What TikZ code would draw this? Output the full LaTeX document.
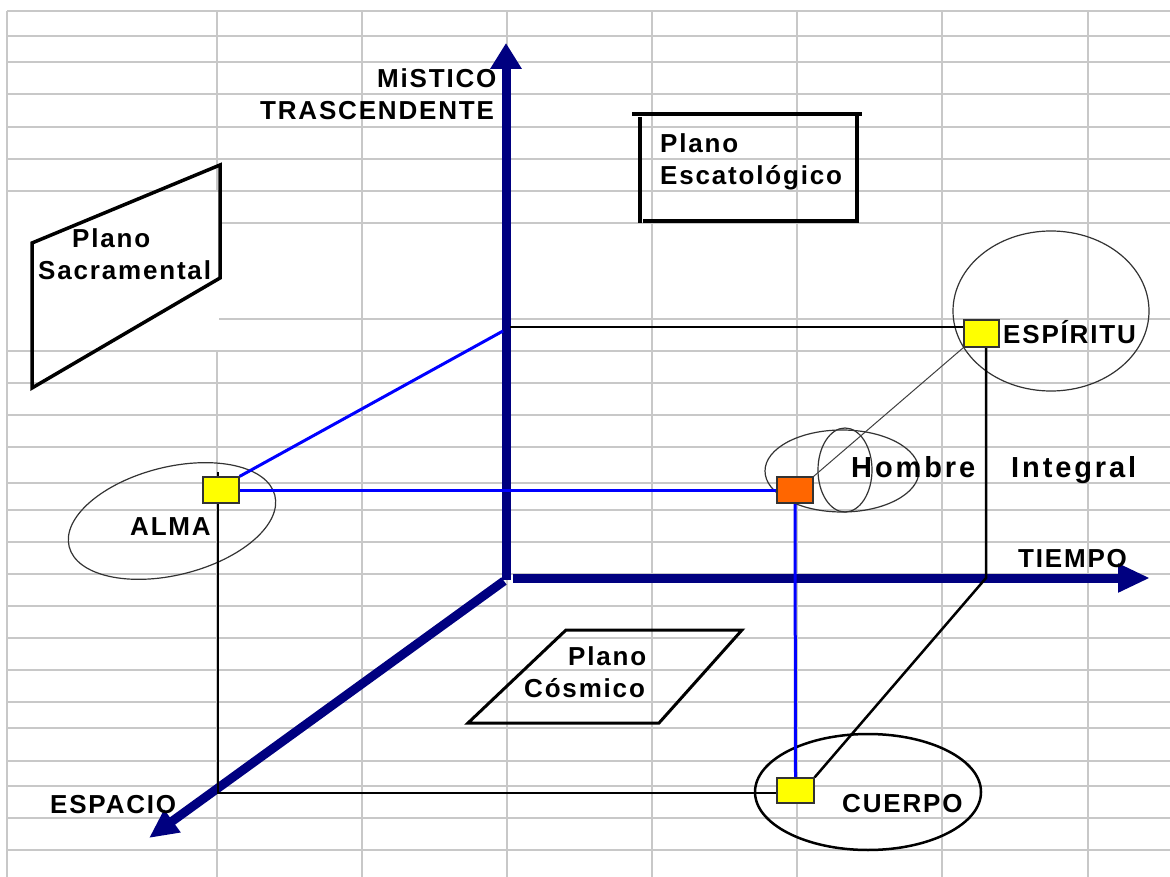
\documentclass[tikz,border=0pt]{standalone}
\usepackage{fontspec}
\setmainfont{Liberation Sans}
\newfontfamily\labfont[LetterSpace=7]{Liberation Sans}
\newfontfamily\homfont[LetterSpace=10]{Liberation Sans}
\usetikzlibrary{arrows.meta}
\pgfdeclarelayer{background}
\pgfsetlayers{background,main}
\definecolor{axisnavy}{HTML}{000080}
\definecolor{gridgray}{HTML}{C8C8C8}
\definecolor{boxyellow}{HTML}{FFFF00}
\definecolor{boxorange}{HTML}{FF6600}
\definecolor{linkblue}{HTML}{0000FF}
\tikzset{
  gridline/.style={draw=gridgray, line width=1.2pt},
  axisline/.style={draw=axisnavy, line width=9pt},
  link/.style={draw=linkblue, line width=3pt},
  tie/.style={draw=black, line width=2.5pt},
  thinlink/.style={draw=black!75, line width=1pt},
  ring/.style={draw=black!80, line width=1.2pt},
  plane/.style={draw=black, line width=3.5pt},
  lab/.style={anchor=base west, inner sep=0pt, font=\labfont\bfseries\fontsize{26}{30}\selectfont},
  homlab/.style={anchor=base west, inner sep=0pt, font=\homfont\bfseries\fontsize{29}{32}\selectfont},
  marker/.style={draw=black!80, line width=1.2pt, inner sep=0pt, minimum width=36pt, minimum height=26pt}
}
\begin{document}
\begin{tikzpicture}[x=1pt,y=-1pt]
\useasboundingbox (0,0) rectangle (1170,877);
\begin{pgfonlayer}{background}
\fill[white] (0,0) rectangle (1170,877);
% grid
\foreach \gx in {7,217,362,507,652,797,942,1088}
  \draw[gridline] (\gx,11) -- (\gx,877);
\foreach \gy in {11,36,62,94,127,159,191,223,319,351,383,415,447,483,510,542,574,606,638,670,702,728,761,786,818,850}
  \draw[gridline] (7,\gy) -- (1170,\gy);
\fill[white] (8,192.5) rectangle (218.5,350);

% planes
\draw[plane] (32,243) -- (220,165) -- (220,278) -- (32,388) -- cycle;
\draw[plane] (632,114) -- (862,114);
\draw[plane] (640,117) -- (640,223);
\draw[plane] (643,221) -- (857,221) -- (857,114);
\draw[draw=black, line width=3pt] (566,630) -- (742,630) -- (659,723) -- (468,723) -- cycle;

% ellipses
\draw[ring, rotate around={14:(172,521)}] (172,521) ellipse [x radius=106pt, y radius=54pt];
\draw[ring] (1051,311) ellipse [x radius=98pt, y radius=80pt];
\draw[ring] (842,471) ellipse [x radius=77pt, y radius=41pt];
\draw[ring] (845,470) ellipse [x radius=27pt, y radius=42pt];
\draw[draw=black, line width=2.5pt] (868,792) ellipse [x radius=113pt, y radius=58pt];

% axes
\coordinate (O) at (506,580);
\coordinate (topTip) at (506,43);
\coordinate (tStart) at (513,578);
\coordinate (tTip) at (1150,578);
\coordinate (eStart) at (504,581);
\coordinate (eTip) at (149,838);
\draw[axisline, -{Triangle[length=26pt,width=30pt]}] (O) -- (topTip);
\draw[axisline, -{Triangle[length=32pt,width=27pt]}] (tStart) -- (tTip);
\draw[axisline, -{Triangle[length=29pt,width=26pt]}] (eStart) -- (eTip);
\end{pgfonlayer}

% markers
\node[marker, fill=boxyellow] (alma) at (221,490) {};
\node[marker, fill=boxorange] (hombre) at (795,490) {};
\node[marker, fill=boxyellow, minimum width=35pt, minimum height=27pt] (espiritu) at (981.5,333.5) {};
\node[marker, fill=boxyellow, minimum width=37pt, minimum height=25pt] (cuerpo) at (795.5,790.5) {};

% connectors
\coordinate (almaTop) at (218,472);
\coordinate (almaFoot) at (218,793);
\coordinate (vEsp) at (510,327);
\coordinate (tEsp) at (986,578);
\coordinate (vAlma) at (503,331);
\begin{pgfonlayer}{background}
\draw[tie] (almaTop) -- (almaFoot) -- (cuerpo.west |- almaFoot);
\draw[tie] (vEsp) -- (vEsp -| espiritu.west);
\draw[tie] (tEsp |- espiritu.south) -- (tEsp) -- (cuerpo.north east);
\draw[thinlink] (hombre.north east) -- (espiritu.south west);
\draw[link] (alma.north east) -- (vAlma);
\draw[link] (alma.east) -- (hombre.west);
\draw[link] (hombre.south) -- (cuerpo.north);
\end{pgfonlayer}

% labels
\node[lab] (mistico) at (377,88) {MiSTICO};
\node[lab] (trasc) at (260,120) {TRASCENDENTE};
\node[lab] (escA) at (660,153) {Plano};
\node[lab] (escB) at (660,185) {Escatológico};
\node[lab] (sacA) at (72,248) {Plano};
\node[lab] (sacB) at (38,280) {Sacramental};
\node[lab] (esplab) at (1003,343) {ESPÍRITU};
\node[homlab] (homA) at (851,477) {Hombre};
\node[homlab] (homB) at (1011,477) {Integral};
\node[lab] (almalab) at (130,535) {ALMA};
\node[lab] (tiempo) at (1018,567) {TIEMPO};
\node[lab] (cosA) at (568,665) {Plano};
\node[lab] (cosB) at (524,697) {Cósmico};
\node[lab] (espacio) at (50,813) {ESPACIO};
\node[lab] (cuerpolab) at (842,812) {CUERPO};
\end{tikzpicture}
\end{document}
